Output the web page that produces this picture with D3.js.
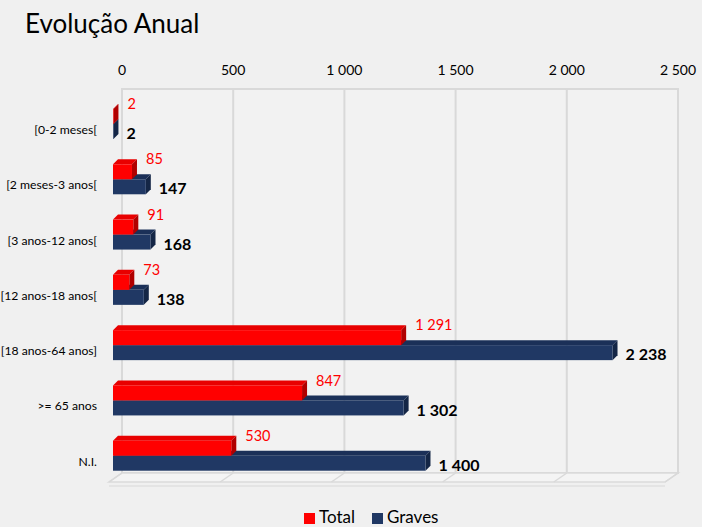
<!DOCTYPE html>
<html>
<head>
<meta charset="utf-8">
<script src="https://cdn.jsdelivr.net/npm/d3@7"></script>
<style>
  body { margin: 0; background: #f0f0f0; }
  text { font-family: Lato, "Open Sans", sans-serif; }
</style>
</head>
<body>
<svg id="drawing_region"></svg>
<script>
// data
var categories = ['[0-2 meses[', '[2 meses-3 anos[', '[3 anos-12 anos[', '[12 anos-18 anos[', '[18 anos-64 anos]', '>= 65 anos', 'N.I.'];
var total_values = [2, 85, 91, 73, 1291, 847, 530];
var graves_values = [2, 147, 168, 138, 2238, 1302, 1400];
var series_names = ['Total', 'Graves'];
var x_ticks = [0, 500, 1000, 1500, 2000, 2500];

var pt = d3.formatLocale({ decimal: ',', thousands: ' ', grouping: [3], currency: ['', ' €'] });
var fmt = pt.format(',d');

class Bar3DChart {

    constructor( config ) {
        this.config = config;
        this.init();
    }

    init() {
        let self = this;

        self.svg = d3.select( self.config.parent )
            .attr('width', self.config.width)
            .attr('height', self.config.height)
            .style('background', '#f0f0f0');

        // back wall scale (gridlines / tick labels) and front scale (bars)
        self.xback = d3.scaleLinear().domain([0, 2500]).range([122, 678]);
        self.xscale = d3.scaleLinear().domain([0, 2500]).range([113, 671]);

        self.yscale = d3.scaleBand()
            .domain(categories)
            .range([96, 483])
            .padding(0);

        self.ysub = d3.scaleBand()
            .domain(series_names)
            .range([13, 43]);

        self.depth = {dx: 5, dy: -5};
    }

    render() {
        let self = this;
        let dx = self.depth.dx, dy = self.depth.dy;

        // title
        self.svg.append('text')
            .attr('x', 25).attr('y', 33)
            .attr('font-size', 26)
            .attr('fill', '#000')
            .text('Evolução Anual');

        // back wall
        let wall = self.svg.append('g');
        wall.append('rect')
            .attr('x', self.xback(0)).attr('y', 89)
            .attr('width', self.xback(2500) - self.xback(0))
            .attr('height', 473 - 89)
            .attr('fill', '#f2f2f2')
            .attr('stroke', '#d9d9d9')
            .attr('stroke-width', 2);

        wall.selectAll('line.grid').data(x_ticks).join('line')
            .attr('class', 'grid')
            .attr('x1', d => self.xback(d)).attr('x2', d => self.xback(d))
            .attr('y1', 89).attr('y2', 473)
            .attr('stroke', '#d9d9d9')
            .attr('stroke-width', 2);

        // floor
        wall.append('path')
            .attr('d', `M${self.xback(0)},473 L${self.xback(2500)},473 L${self.xback(2500) - 13},482 L${self.xback(0) - 13},482 Z`)
            .attr('fill', '#f4f4f4')
            .attr('stroke', '#dadada')
            .attr('stroke-width', 1.5);
        wall.append('line')
            .attr('x1', self.xback(0) - 13).attr('x2', self.xback(2500) - 13)
            .attr('y1', 486).attr('y2', 486)
            .attr('stroke', '#e0e0e0').attr('stroke-width', 1.5);
        wall.selectAll('line.floor').data(x_ticks).join('line')
            .attr('class', 'floor')
            .attr('x1', d => self.xback(d)).attr('x2', d => self.xback(d) - 13)
            .attr('y1', 473).attr('y2', 482)
            .attr('stroke', '#d9d9d9')
            .attr('stroke-width', 1.5);

        // top axis labels
        self.svg.append('g')
            .selectAll('text').data(x_ticks).join('text')
            .attr('x', d => self.xback(d))
            .attr('y', 75)
            .attr('text-anchor', 'middle')
            .attr('font-size', 14)
            .attr('fill', '#000')
            .text(d => fmt(d));

        // category labels
        self.svg.append('g')
            .selectAll('text').data(categories).join('text')
            .attr('x', 97)
            .attr('y', d => self.yscale(d) + 38)
            .attr('text-anchor', 'end')
            .attr('font-size', 12.2)
            .attr('fill', '#000')
            .text(d => d);

        let rows = categories.map((c, i) => ({cat: c, total: total_values[i], graves: graves_values[i]}));

        let bar3d = (g, x0, x1, y, h, col) => {
            g.append('path')
                .attr('d', `M${x0},${y} L${x1},${y} L${x1 + dx},${y + dy} L${x0 + dx},${y + dy} Z`)
                .attr('fill', col.top);
            g.append('path')
                .attr('d', `M${x1},${y} L${x1 + dx},${y + dy} L${x1 + dx},${y + h + dy} L${x1},${y + h} Z`)
                .attr('fill', col.side);
            g.append('rect')
                .attr('x', x0).attr('y', y)
                .attr('width', x1 - x0).attr('height', h)
                .attr('fill', col.front);
        };

        let red = {front: '#ff0000', top: '#e80000', side: '#b00000'};
        let navy = {front: '#203864', top: '#1b3058', side: '#142646'};

        let bars = self.svg.append('g');
        rows.forEach(d => {
            let g = bars.append('g');
            let yb = self.yscale(d.cat);
            let h = self.ysub.bandwidth();
            bar3d(g, self.xscale(0), self.xscale(d.graves), yb + self.ysub('Graves'), h, navy);
            bar3d(g, self.xscale(0), self.xscale(d.total), yb + self.ysub('Total'), h, red);
        });

        // data labels
        self.svg.append('g')
            .selectAll('text').data(rows).join('text')
            .attr('x', d => self.xscale(d.total) + dx + 9)
            .attr('y', d => self.yscale(d.cat) + 8)
            .attr('dy', '0.35em')
            .attr('font-size', 14.5)
            .attr('fill', '#ff0000')
            .text(d => fmt(d.total));

        self.svg.append('g')
            .selectAll('text').data(rows).join('text')
            .attr('x', d => self.xscale(d.graves) + dx + 8)
            .attr('y', d => self.yscale(d.cat) + self.ysub('Graves') + self.ysub.bandwidth() / 2 + 2)
            .attr('dy', '0.35em')
            .attr('font-size', 16)
            .attr('font-weight', 'bold')
            .attr('fill', '#000')
            .text(d => fmt(d.graves));

        // legend
        let legend = self.svg.append('g').attr('transform', 'translate(304, 512)');
        let items = [{name: 'Total', col: '#ff0000', x: 0}, {name: 'Graves', col: '#203864', x: 68}];
        items.forEach(it => {
            legend.append('rect')
                .attr('x', it.x).attr('y', 1)
                .attr('width', 11).attr('height', 11)
                .attr('fill', it.col);
            legend.append('text')
                .attr('x', it.x + 15).attr('y', 11)
                .attr('font-size', 17)
                .attr('fill', '#000')
                .text(it.name);
        });
    }
}

var chart = new Bar3DChart({
    parent: '#drawing_region',
    width: 702,
    height: 527
});
chart.render();
</script>
</body>
</html>
